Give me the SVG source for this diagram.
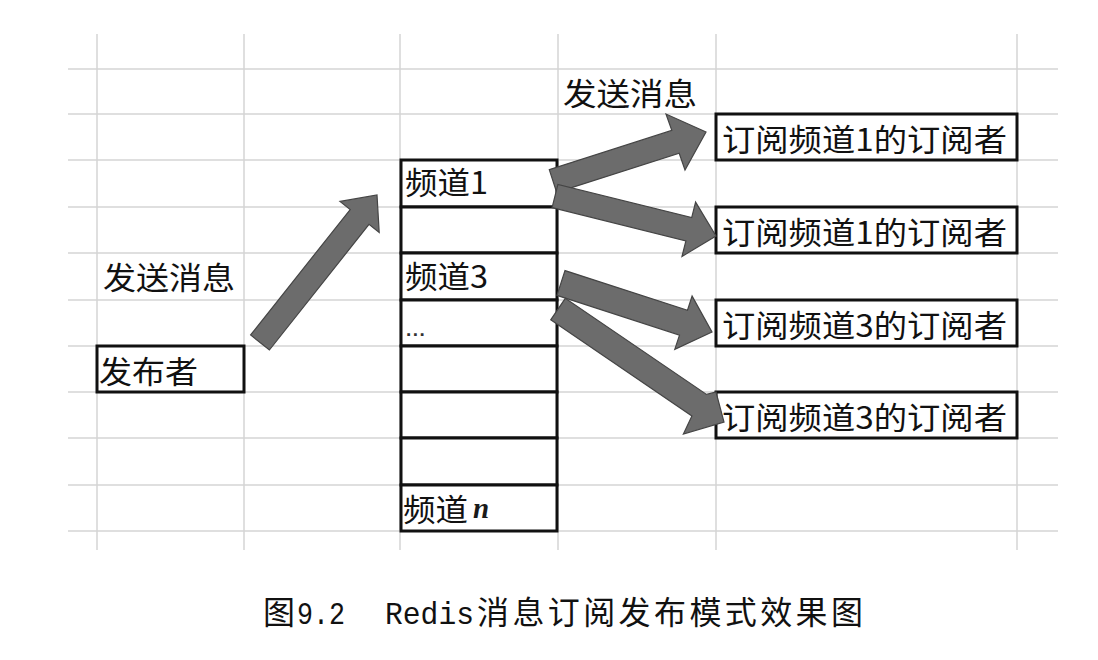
<svg xmlns="http://www.w3.org/2000/svg" width="1098" height="660" viewBox="0 0 1098 660">
<style>
.grid line{stroke:#d4d4d4;stroke-width:1.5}
.box{fill:#fff;stroke:#111;stroke-width:3}
.t{font-family:"Noto Sans CJK SC","Microsoft YaHei",sans-serif;font-size:31px;font-weight:400;fill:#111}
.cap{font-family:"Noto Sans CJK SC",sans-serif;font-size:32px;fill:#111}
.mono{font-family:"Liberation Mono","Noto Sans CJK SC",monospace;font-size:32px;fill:#111}
.arrow{fill:#6c6c6c;stroke:#454545;stroke-width:1.2;stroke-linejoin:miter}
</style>
<rect width="1098" height="660" fill="#fff"/>
<g id="grid" class="grid">
<line x1="97" y1="34" x2="97" y2="550"/>
<line x1="244" y1="34" x2="244" y2="550"/>
<line x1="400" y1="34" x2="400" y2="550"/>
<line x1="558" y1="34" x2="558" y2="550"/>
<line x1="716" y1="34" x2="716" y2="550"/>
<line x1="1017" y1="34" x2="1017" y2="550"/>
<line x1="68" y1="69" x2="1058" y2="69"/>
<line x1="68" y1="114" x2="1058" y2="114"/>
<line x1="68" y1="160" x2="1058" y2="160"/>
<line x1="68" y1="207" x2="1058" y2="207"/>
<line x1="68" y1="253" x2="1058" y2="253"/>
<line x1="68" y1="300" x2="1058" y2="300"/>
<line x1="68" y1="346" x2="1058" y2="346"/>
<line x1="68" y1="392" x2="1058" y2="392"/>
<line x1="68" y1="438" x2="1058" y2="438"/>
<line x1="68" y1="485" x2="1058" y2="485"/>
<line x1="68" y1="531" x2="1058" y2="531"/>
</g>
<g id="label-send-left"><text class="t" x="103" y="289" textLength="132" lengthAdjust="spacingAndGlyphs">发送消息</text></g>
<g id="label-send-top"><text class="t" x="563" y="105" textLength="134" lengthAdjust="spacingAndGlyphs">发送消息</text></g>
<g id="publisher">
<rect class="box" x="97" y="346" width="147" height="46"/>
<text class="t" x="99" y="383" textLength="99" lengthAdjust="spacingAndGlyphs">发布者</text>
</g>
<g id="channels">
<g id="channel-1"><rect class="box" x="401" y="160" width="156" height="47"/><text class="t" x="405" y="194" textLength="83" lengthAdjust="spacingAndGlyphs">频道1</text></g>
<g id="channel-2"><rect class="box" x="401" y="207" width="156" height="46"/></g>
<g id="channel-3"><rect class="box" x="401" y="253" width="156" height="47"/><text class="t" x="405" y="288" textLength="83" lengthAdjust="spacingAndGlyphs">频道3</text></g>
<g id="channel-dots"><rect class="box" x="401" y="300" width="156" height="46"/><text x="406" y="336" style="font-family:'Liberation Sans',sans-serif;font-size:19px;font-weight:bold;fill:#333;letter-spacing:1.5px">...</text></g>
<g id="channel-5"><rect class="box" x="401" y="346" width="156" height="46"/></g>
<g id="channel-6"><rect class="box" x="401" y="392" width="156" height="46"/></g>
<g id="channel-7"><rect class="box" x="401" y="438" width="156" height="47"/></g>
<g id="channel-n"><rect class="box" x="401" y="485" width="156" height="46"/><text class="t" x="403" y="521" textLength="65" lengthAdjust="spacingAndGlyphs">频道</text><text x="473" y="518" style="font-family:'Liberation Serif',serif;font-style:italic;font-weight:bold;font-size:29px;fill:#1a1a1a">n</text></g>
</g>
<g id="subscriber-1"><rect class="box" x="716" y="114" width="301" height="46"/><text class="t" x="722" y="151" textLength="285" lengthAdjust="spacingAndGlyphs">订阅频道1的订阅者</text></g>
<g id="subscriber-2"><rect class="box" x="716" y="207" width="301" height="46"/><text class="t" x="722" y="244" textLength="285" lengthAdjust="spacingAndGlyphs">订阅频道1的订阅者</text></g>
<g id="subscriber-3"><rect class="box" x="716" y="300" width="301" height="46"/><text class="t" x="722" y="337" textLength="285" lengthAdjust="spacingAndGlyphs">订阅频道3的订阅者</text></g>
<g id="subscriber-4"><rect class="box" x="716" y="392" width="301" height="46"/><text class="t" x="722" y="429" textLength="285" lengthAdjust="spacingAndGlyphs">订阅频道3的订阅者</text></g>
<g id="connectors">
<polygon class="arrow" points="269.4,350 369,224.4 379.2,232.4 377,195 340,201.4 350.2,209.5 250.6,335"/>
<polygon class="arrow" points="556.7,192.4 679.2,153.2 685,170 706,132 666,114 671.8,130.4 549.3,169.6"/>
<polygon class="arrow" points="552.1,207.6 685.9,240.9 682,256.4 716,236 695.6,202.1 691.7,217.6 557.9,184.4"/>
<polygon class="arrow" points="557,295.4 679.5,335.1 674.8,349.4 712,332 692.1,296.1 687.5,310.3 565,270.6"/>
<polygon class="arrow" points="550.7,319.8 691.9,415.9 683.4,434 724,422 716,392 706.5,394.4 565.3,298.3"/>
</g>
<g id="caption">
<text class="cap" x="263" y="624">图</text>
<text class="mono" x="297" y="624" textLength="48" lengthAdjust="spacingAndGlyphs">9.2</text>
<text class="mono" x="385" y="624" textLength="89" lengthAdjust="spacingAndGlyphs">Redis</text>
<text class="cap" x="477" y="624" textLength="386" lengthAdjust="spacing">消息订阅发布模式效果图</text>
</g>
</svg>
